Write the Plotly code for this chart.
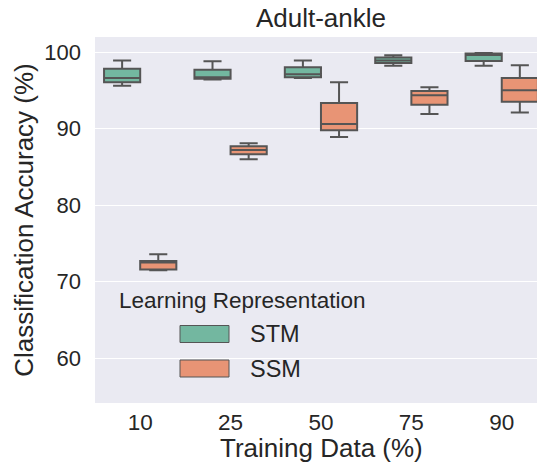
import plotly.graph_objects as go

# Box statistics per training-data split (classification accuracy, %)
training_pct = ["10", "25", "50", "75", "90"]
groups = ["STM", "SSM"]

stm_low = [95.6, 96.4, 96.6, 98.2, 98.2]
stm_q1 = [96.05, 96.5, 96.7, 98.57, 98.83]
stm_med = [96.6, 96.7, 97.1, 98.9, 99.6]
stm_q3 = [97.8, 97.7, 98.0, 99.27, 99.8]
stm_high = [98.9, 98.8, 98.9, 99.57, 99.87]

ssm_low = [71.5, 86.0, 88.9, 91.9, 92.1]
ssm_q1 = [71.6, 86.65, 89.8, 93.1, 93.5]
ssm_med = [72.5, 87.2, 90.6, 94.35, 95.0]
ssm_q3 = [72.7, 87.7, 93.35, 94.9, 96.6]
ssm_high = [73.6, 88.1, 96.05, 95.4, 98.27]

colors = ["rgb(115,183,160)", "rgb(232,148,117)"]
edge = "rgb(85,85,85)"
text_col = "rgb(38,38,38)"
font_family = "Liberation Sans, Arial, sans-serif"

stats = [
    (stm_low, stm_q1, stm_med, stm_q3, stm_high),
    (ssm_low, ssm_q1, ssm_med, ssm_q3, ssm_high),
]

fig = go.Figure()
for name, color, (lo, q1, med, q3, hi) in zip(groups, colors, stats):
    fig.add_trace(go.Box(
        name=name,
        x=training_pct,
        q1=q1, median=med, q3=q3,
        lowerfence=lo, upperfence=hi,
        fillcolor=color,
        line=dict(color=edge, width=2),
        whiskerwidth=0.5,
        boxpoints=False,
        showlegend=False,
        hoverinfo="skip",
    ))

W, H = 537, 465
ml, mr, mt, mb = 95, 0, 37, 62
pw, ph = W - ml - mr, H - mt - mb

def px_x(x):
    return (x - ml) / pw

def px_y(y):
    return (H - mb - y) / ph

fig.update_layout(
    width=W, height=H,
    margin=dict(l=ml, r=mr, t=mt, b=mb, pad=0),
    paper_bgcolor="white",
    plot_bgcolor="#eaeaf2",
    boxmode="group",
    boxgap=0.2,
    boxgroupgap=0,
    font=dict(family=font_family, color=text_col),
    title=dict(text="Adult-ankle", xref="paper", x=px_x(321), xanchor="center",
               yref="container", y=1 - 18 / H, yanchor="middle",
               font=dict(size=26, color=text_col)),
    xaxis=dict(
        type="category",
        range=[-0.5, 4.39],
        showgrid=False,
        zeroline=False,
        ticks="",
        ticklabelstandoff=3,
        tickfont=dict(size=22.5),
    ),
    yaxis=dict(
        range=[54.17, 101.96],
        tickvals=[60, 70, 80, 90, 100],
        showgrid=True, gridcolor="white", gridwidth=1.3,
        zeroline=False,
        ticks="",
        ticklabelstandoff=13,
        tickfont=dict(size=22),
        title=dict(text="Classification Accuracy (%)", font=dict(size=26), standoff=3),
    ),
)

# x-axis title centred on the full category span (the axes run past the right edge)
fig.add_annotation(
    x=px_x(321), y=px_y(448), xref="paper", yref="paper",
    text="Training Data (%)", showarrow=False,
    xanchor="center", yanchor="middle",
    font=dict(size=26, color=text_col),
)

# Legend drawn as patches with labels inside the axes
fig.add_annotation(
    x=px_x(117), y=px_y(300), xref="paper", yref="paper",
    text="Learning Representation", showarrow=False,
    xanchor="left", yanchor="middle",
    font=dict(size=22.5, color=text_col),
)
for name, color, yc in zip(groups, colors, [334, 368.5]):
    fig.add_shape(
        type="rect", xref="paper", yref="paper",
        x0=px_x(180), x1=px_x(229), y0=px_y(yc + 8.5), y1=px_y(yc - 8.5),
        fillcolor=color, line=dict(color=edge, width=1),
    )
    fig.add_annotation(
        x=px_x(248), y=px_y(yc), xref="paper", yref="paper",
        text=name, showarrow=False, xanchor="left", yanchor="middle",
        font=dict(size=23.5, color=text_col),
    )

fig.write_html("out.html")
